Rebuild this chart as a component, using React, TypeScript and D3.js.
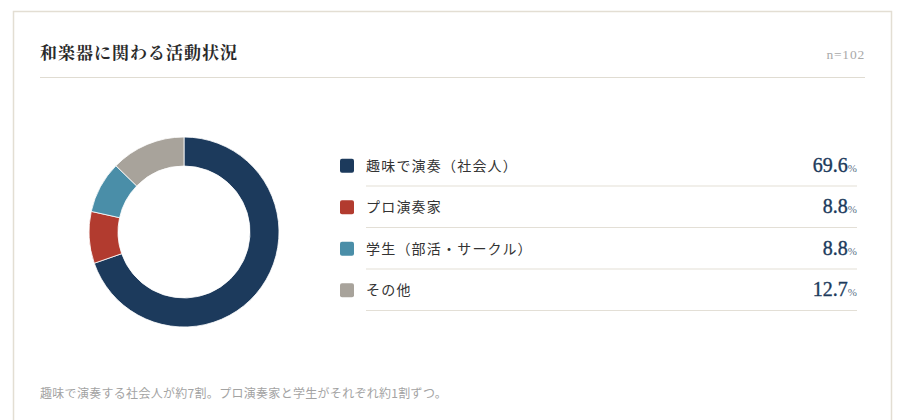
import React, { useEffect, useRef } from 'react';
import * as d3 from 'd3';

const categories = ['趣味で演奏（社会人）', 'プロ演奏家', '学生（部活・サークル）', 'その他'];
const values = [69.6, 8.8, 8.8, 12.7];
const colors = ['#1c3a5c', '#b23b2f', '#4a8ea8', '#a8a39b'];
const title = '和楽器に関わる活動状況';
const sampleLabel = 'n=102';
const note = '趣味で演奏する社会人が約7割。プロ演奏家と学生がそれぞれ約1割ずつ。';

const App: React.FC = () => {
  const svgRef = useRef<SVGSVGElement>(null);

  useEffect(() => {
    if (!svgRef.current) return;
    d3.select(svgRef.current).selectAll('*').remove();

    const width = 900;
    const height = 420;
    const svg = d3.select(svgRef.current)
      .attr('width', width)
      .attr('height', height)
      .attr('viewBox', `0 0 ${width} ${height}`);

    const serif = '"Noto Serif CJK JP", "Liberation Serif", serif';
    const sans = '"Noto Sans CJK JP", "Noto Sans", sans-serif';

    // Card (bottom runs off the page)
    svg.append('rect')
      .attr('x', 13.5).attr('y', 11.5)
      .attr('width', 878).attr('height', 440)
      .attr('fill', '#fff')
      .attr('stroke', '#e3ded3')
      .attr('stroke-width', 1.5);

    // Header
    svg.append('text')
      .attr('x', 40).attr('y', 59)
      .text(title)
      .style('font-family', serif)
      .style('font-weight', 700)
      .style('font-size', '17px')
      .style('letter-spacing', '1px')
      .attr('fill', '#2a2a2a');

    svg.append('text')
      .attr('x', 865).attr('y', 59)
      .attr('text-anchor', 'end')
      .text(sampleLabel)
      .style('font-family', '"Liberation Serif", serif')
      .style('font-size', '13.5px')
      .style('letter-spacing', '0.8px')
      .attr('fill', '#a9a9a9');

    svg.append('line')
      .attr('x1', 40).attr('x2', 865)
      .attr('y1', 77.5).attr('y2', 77.5)
      .attr('stroke', '#e0dcd2')
      .attr('stroke-width', 1);

    // Donut
    const data = categories.map((c, i) => ({ name: c, value: values[i], color: colors[i] }));
    const pie = d3.pie<typeof data[number]>().sort(null).value(d => d.value);
    const arc = d3.arc<d3.PieArcDatum<typeof data[number]>>()
      .innerRadius(66)
      .outerRadius(95);

    const donut = svg.append('g').attr('transform', 'translate(184,232)');
    donut.selectAll('path')
      .data(pie(data))
      .enter()
      .append('path')
      .attr('d', arc)
      .attr('fill', d => d.data.color)
      .attr('stroke', '#fff')
      .attr('stroke-width', 0.8);

    // Legend rows
    const rows = d3.scaleBand<string>()
      .domain(categories)
      .range([145, 311])
      .paddingInner(0);

    const legend = svg.append('g');
    const row = legend.selectAll('g')
      .data(data)
      .enter()
      .append('g')
      .attr('transform', d => `translate(0,${rows(d.name)})`);

    const bw = rows.bandwidth();

    row.append('rect')
      .attr('x', 340).attr('y', bw / 2 - 7)
      .attr('width', 14).attr('height', 14)
      .attr('rx', 2)
      .attr('fill', d => d.color);

    row.append('text')
      .attr('x', 366).attr('y', bw / 2 + 5)
      .text(d => d.name)
      .style('font-family', sans)
      .style('font-size', '14px')
      .style('letter-spacing', '1.2px')
      .attr('fill', '#333');

    const val = row.append('text')
      .attr('x', 857).attr('y', bw / 2 + 6)
      .attr('text-anchor', 'end')
      .style('font-family', '"Liberation Serif", serif');
    val.append('tspan')
      .text(d => d.value.toFixed(1))
      .style('font-size', '20px')
      .attr('fill', '#1c3a5c')
      .attr('stroke', '#1c3a5c')
      .attr('stroke-width', 0.35);
    val.append('tspan')
      .text('%')
      .style('font-size', '11px')
      .attr('fill', '#5a6f86');

    row.append('line')
      .attr('x1', 366).attr('x2', 857)
      .attr('y1', bw - 0.5).attr('y2', bw - 0.5)
      .attr('stroke', '#e3dfd6')
      .attr('stroke-width', 1.2);

    // Footnote
    svg.append('text')
      .attr('x', 40).attr('y', 398)
      .text(note)
      .style('font-family', sans)
      .style('font-size', '12px')
      .style('letter-spacing', '0.3px')
      .attr('fill', '#a3a3a3');
  }, []);

  return (
    <div style={{ position: 'fixed', left: 0, top: 0, width: 900, height: 420, background: '#fff' }}>
      <svg ref={svgRef} style={{ display: 'block' }}></svg>
    </div>
  );
};

export default App;
